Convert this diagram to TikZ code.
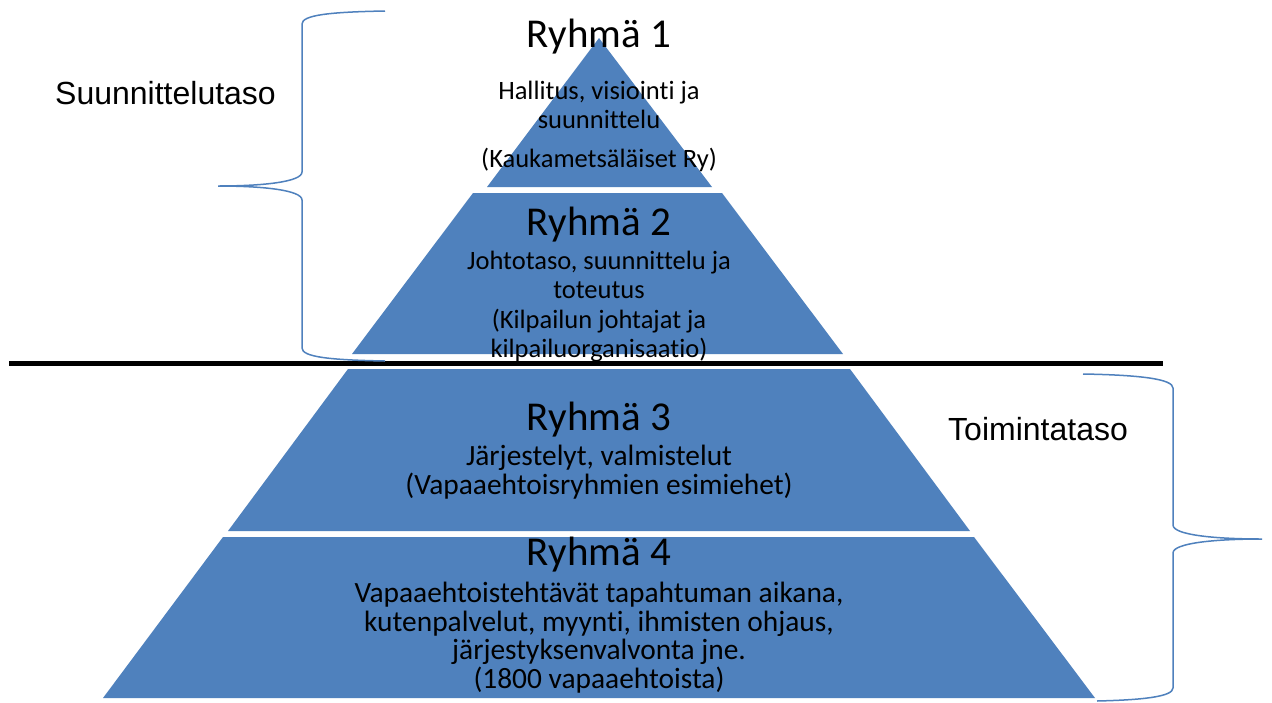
\documentclass[tikz,border=0pt]{standalone}
\usepackage{fontspec}
\setmainfont{Carlito}[Ligatures=NoCommon]
\newfontfamily\arialf{Liberation Sans}
\definecolor{pyrblue}{HTML}{4F81BD}
\begin{document}
\begin{tikzpicture}[x=1pt,y=-1pt,
  layer/.style={fill=pyrblue},
  bracestyle/.style={draw=pyrblue, line width=1.5pt},
  title/.style={anchor=base, inner sep=0pt, font=\fontsize{41}{41}\selectfont},
  smalltxt/.style={anchor=base, inner sep=0pt, font=\fontsize{26.5}{26.5}\selectfont},
  bodytxt/.style={anchor=base, inner sep=0pt, font=\fontsize{29.4}{29.4}\selectfont},
  side/.style={anchor=base west, inner sep=0pt, font=\arialf\fontsize{32}{32}\selectfont}]
\useasboundingbox (0,0) rectangle (1272,702);
\fill[white] (0,0) rectangle (1272,702);
% pyramid layers
\fill[layer] (599,38) -- (712,187) -- (487,187) -- cycle;
\fill[layer] (473,193) -- (722,193) -- (843,354) -- (352,354) -- cycle;
\fill[layer] (348,369) -- (850,369) -- (970,531) -- (228,531) -- cycle;
\fill[layer] (223,537) -- (974,537) -- (1095,698) -- (103,698) -- cycle;
% group 1
\node[title] (r1) at (599,47) {Ryhmä 1};
\node[smalltxt] (g1a) at (599,99) {Hallitus, visiointi ja};
\node[smalltxt] (g1b) at (599,128) {suunnittelu};
\node[smalltxt] (g1c) at (599,167) {(Kaukametsäläiset Ry)};
% group 2
\node[title] (r2) at (599,235) {Ryhmä 2};
\node[smalltxt] (g2a) at (599,269) {Johtotaso, suunnittelu ja};
\node[smalltxt] (g2b) at (599,298) {toteutus};
\node[smalltxt] (g2c) at (599,328) {(Kilpailun johtajat ja};
\node[smalltxt] (g2d) at (599,357) {kilpailuorganisaatio)};
% group 3
\node[title] (r3) at (599,430) {Ryhmä 3};
\node[bodytxt] (g3a) at (599,465) {Järjestelyt, valmistelut};
\node[bodytxt] (g3b) at (599,494) {(Vapaaehtoisryhmien esimiehet)};
% group 4
\node[title] (r4) at (599,565) {Ryhmä 4};
\node[bodytxt] (g4a) at (599,602) {Vapaaehtoistehtävät tapahtuman aikana,};
\node[bodytxt] (g4b) at (599,631) {kutenpalvelut, myynti, ihmisten ohjaus,};
\node[bodytxt] (g4c) at (599,659) {järjestyksenvalvonta jne.};
\node[bodytxt] (g4d) at (599,688) {(1800 vapaaehtoista)};
% divider
\coordinate (dl) at (9,363);
\coordinate (dr) at (1163,363);
\draw[line width=5pt] (dl) -- (dr);
% side labels
\node[side] (suun) at (55,104) {Suunnittelutaso};
\node[side] (toim) at (948,440) {Toimintataso};
% left brace
\draw[bracestyle] (385,11) .. controls (330,12) and (302,15) .. (302,24)
  -- (302,172) .. controls (302,182) and (262,186) .. (218,186)
  .. controls (262,186) and (302,190) .. (302,200)
  -- (302,348) .. controls (302,357) and (330,360) .. (385,361);
% right brace
\draw[bracestyle] (1083,374) .. controls (1140,375) and (1173,379) .. (1173,388)
  -- (1173,525) .. controls (1173,535) and (1215,539) .. (1262,539)
  .. controls (1215,539) and (1173,543) .. (1173,553)
  -- (1173,688) .. controls (1173,697) and (1140,700) .. (1097,701);
\end{tikzpicture}
\end{document}
